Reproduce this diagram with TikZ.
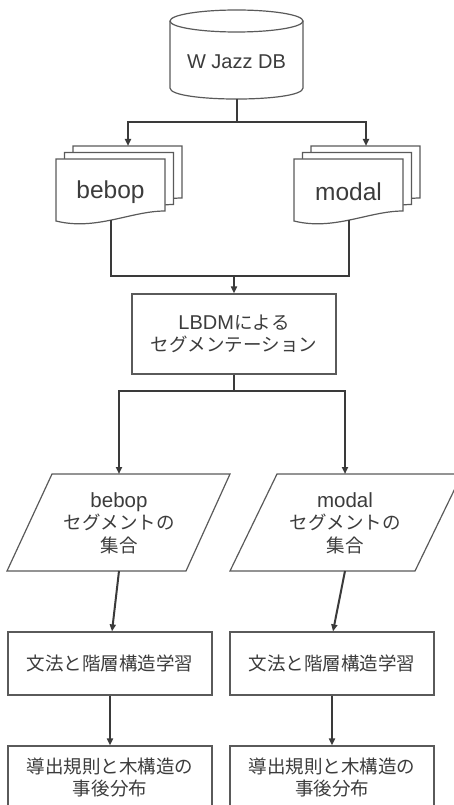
\documentclass[tikz,border=0pt]{standalone}
\usepackage{fontspec}
\setmainfont{Noto Sans CJK JP}[Kerning=Off]
\newfontfamily\latinfont{Liberation Sans}
\usetikzlibrary{arrows.meta,calc}
\definecolor{edgecol}{HTML}{5A5A5A}
\definecolor{wirecol}{HTML}{3A3A3A}
\definecolor{inkcol}{HTML}{3C3C3C}

% Latin words in a wider sans, optional size in pt
\newcommand\lw[2][20]{{\latinfont\fontsize{#1}{22.5}\selectfont #2}}

% one sheet of a document stack: #1,#2 = top-left corner
\newcommand\docsheet[2]{%
  \draw[shapeline] (#1,#2) -- ++(109,0) -- ++(0,52)
    .. controls +(-34,0) and +(40,10) .. ($(#1,#2)+(0,62)$) -- cycle;}

\begin{document}
\begin{tikzpicture}[x=1pt,y=-1pt,
  shapeline/.style={draw=edgecol, line width=1.2pt, fill=white},
  wire/.style={draw=wirecol, line width=2pt},
  arr/.style={wire, -{Triangle[length=7pt,width=6pt]}},
  txt/.style={text=inkcol, font=\fontsize{18.5}{22.5}\selectfont, align=center, inner sep=0pt},
  procbox/.style={shapeline, txt, minimum width=204pt, minimum height=63pt},
  line join=miter
]
\useasboundingbox (0,0) rectangle (454,805);
\clip (0,0) rectangle (454,805);

% database
\draw[shapeline] (170,21) -- (170,88) .. controls (170,102.7) and (303,102.7) .. (303,88) -- (303,21);
\draw[shapeline] (236.5,21) ellipse [x radius=66.5, y radius=11];
\node[txt] (db) at (236.5,62) {\lw{W Jazz DB}};
\coordinate (dbbot) at (236.5,99);
\coordinate (split1) at (236.5,122);

% document stacks
\docsheet{73}{146}\docsheet{64.5}{152.5}\docsheet{56}{159}
\docsheet{311}{146}\docsheet{302.5}{152.5}\docsheet{294}{159}
\node[txt] (bdoc) at (110.5,192) {\lw[24.5]{bebop}};
\node[txt] (mdoc) at (348.5,192) {\lw[24.5]{modal}};
\coordinate (bdoctop) at (128,146);
\coordinate (mdoctop) at (366,146);
\coordinate (bdocbot) at (110.5,220);
\coordinate (mdocbot) at (348.5,220);
\coordinate (merge) at (234,276);

% segmentation
\node[shapeline, txt, minimum width=204pt, minimum height=80pt] (lbdm) at (234,334)
  {\lw{LBDM}による\\セグメンテーション};
\coordinate (split2) at (234,391);

% segment sets
\draw[shapeline] (52,474) -- (230,474) -- (186,571) -- (7,571) -- cycle;
\draw[shapeline] (277,474) -- (462,474) -- (415,571) -- (230,571) -- cycle;
\node[txt] (bseg) at (119,523) {\lw[20.5]{bebop}\\セグメントの\\集合};
\node[txt] (mseg) at (345,523) {\lw[20.5]{modal}\\セグメントの\\集合};
\coordinate (bsegtop) at (119,474);
\coordinate (msegtop) at (345,474);
\coordinate (bsegbot) at (119,571);
\coordinate (msegbot) at (345,571);

% learning and results
\node[procbox] (blearn) at (110,663.5) {文法と階層構造学習};
\node[procbox] (mlearn) at (332,663.5) {文法と階層構造学習};
\node[procbox] (bpost) at (110,777.5) {導出規則と木構造の\\事後分布};
\node[procbox] (mpost) at (332,777.5) {導出規則と木構造の\\事後分布};

% connectors
\draw[wire] (dbbot) -- (split1);
\draw[arr] (split1) -| (bdoctop);
\draw[arr] (split1) -| (mdoctop);
\draw[wire] (bdocbot) |- (merge) -| (mdocbot);
\draw[arr] (merge) -- (lbdm.north);
\draw[wire] (lbdm.south) -- (split2);
\draw[arr] (split2) -| (bsegtop);
\draw[arr] (split2) -| (msegtop);
\draw[arr] (bsegbot) -- ($(blearn.north)+(2,0)$);
\draw[arr] (msegbot) -- ($(mlearn.north)+(1,0)$);
\draw[arr] (blearn) -- (bpost);
\draw[arr] (mlearn) -- (mpost);
\end{tikzpicture}
\end{document}
